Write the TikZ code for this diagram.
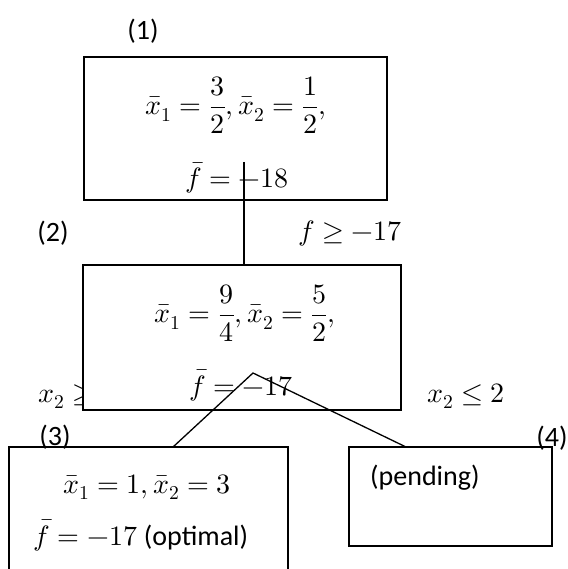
\documentclass[tikz,border=0pt]{standalone}
\usepackage{amsmath}
\usepackage{unicode-math}
\setmainfont{Carlito}
\setmathfont{Latin Modern Math}
\begin{document}
\begin{tikzpicture}[x=1pt,y=-1pt,
  font=\fontsize{28}{33}\selectfont,
  box/.style n args={2}{draw,line width=1.3pt,fill=white,inner sep=0pt,minimum width=#1,minimum height=#2},
  lbl/.style={inner sep=0pt},
  conn/.style={line width=1.3pt}]
\clip (0,0) rectangle (567,569);
% label partly hidden by box 2
\node[lbl,anchor=base west] (l3) at (38,402) {$x_2 \geq 3$};
% boxes
\node[box={303pt}{143pt}] (b1) at (235.5,128.5) {};
\node[box={318pt}{145pt}] (b2) at (242,337.5) {};
\node[box={279pt}{153pt}] (b3) at (148.5,523.5) {};
\node[box={203pt}{99pt}] (b4) at (450.5,496.5) {};
% box texts
\node[lbl] (t1a) at (236,105) {$\bar{x}_1=\dfrac{3}{2},\bar{x}_2=\dfrac{1}{2},$};
\node[lbl,anchor=base] (t1b) at (237,188) {$\bar{f}=-18$};
\node[lbl] (t2a) at (245,313) {$\bar{x}_1=\dfrac{9}{4},\bar{x}_2=\dfrac{5}{2},$};
\node[lbl,anchor=base] (t2b) at (241,395) {$\bar{f}=-17$};
\node[lbl,anchor=base] (t3a) at (147,493) {$\bar{x}_1=1,\bar{x}_2=3$};
\node[lbl,anchor=base] (t3b) at (141,545) {$\bar{f}=-17$ (optimal)};
\node[lbl,anchor=base west] (t4) at (370,485) {(pending)};
% numbers
\node[lbl] (n1) at (143,31) {(1)};
\node[lbl] (n2) at (53,233) {(2)};
\node[lbl] (n3) at (55,437) {(3)};
\node[lbl] (n4) at (552,438) {(4)};
% branch labels
\node[lbl,anchor=base west] (l1) at (298,240) {$f \geq -17$};
\node[lbl,anchor=base west] (l4) at (427,402) {$x_2 \leq 2$};
% connectors
\coordinate (s1) at (244,162);
\draw[conn] (s1) -- (s1 |- b2.north);
\coordinate (ap) at (253,373);
\coordinate (e3) at (173,447);
\coordinate (e4) at (406,447);
\draw[conn] (e3) -- (ap) -- (e4);
\end{tikzpicture}
\end{document}
